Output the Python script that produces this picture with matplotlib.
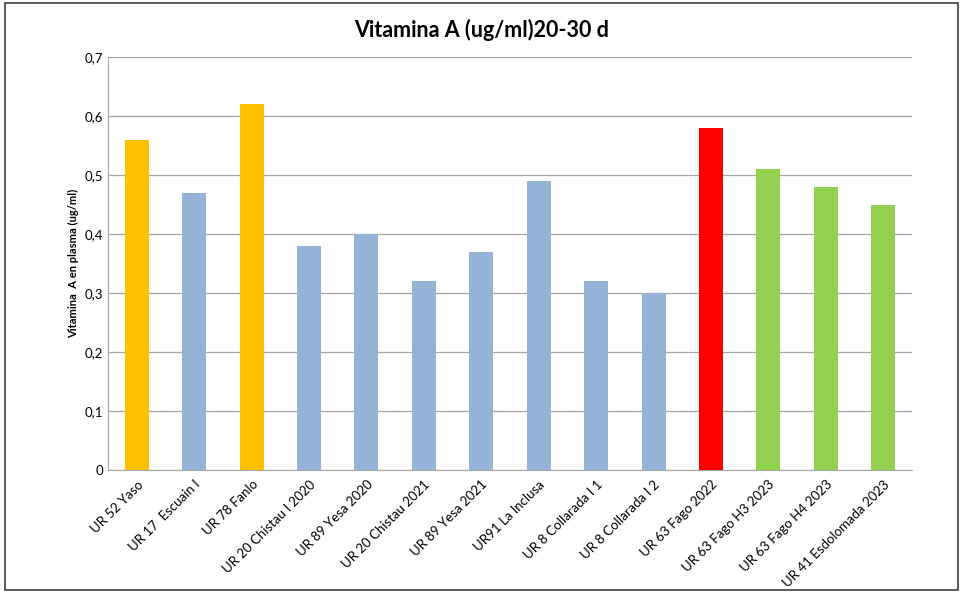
import matplotlib.pyplot as plt
from matplotlib.patches import Rectangle
from matplotlib.ticker import FuncFormatter

plt.rcParams["font.family"] = ["Lato", "DejaVu Sans"]

labels = [
    "UR 52 Yaso", "UR 17  Escuain I", "UR 78 Fanlo", "UR 20 Chistau I 2020",
    "UR 89 Yesa 2020", "UR 20 Chistau 2021", "UR 89 Yesa 2021", "UR91 La Inclusa",
    "UR 8 Collarada I 1", "UR 8 Collarada I 2", "UR 63 Fago 2022",
    "UR 63 Fago H3 2023", "UR 63 Fago H4 2023", "UR 41 Esdolomada 2023",
]
values = [0.56, 0.47, 0.62, 0.38, 0.40, 0.32, 0.37, 0.49, 0.32, 0.30, 0.58, 0.51, 0.48, 0.45]
groups = ["y", "b", "y", "b", "b", "b", "b", "b", "b", "b", "r", "g", "g", "g"]
palette = {"y": "#FFC000", "b": "#95B3D7", "r": "#FF0000", "g": "#92D050"}

fig = plt.figure(figsize=(9.63, 5.93), dpi=100)
ax = fig.add_axes([108 / 963, 1 - 470 / 593, 804 / 963, 413 / 593])

x = range(len(values))
ax.bar(x, values, width=0.42, color=[palette[g] for g in groups], zorder=3)

ax.set_xlim(-0.5, len(values) - 0.5)
ax.set_ylim(0, 0.7)
ax.set_yticks([i / 10 for i in range(8)])
ax.yaxis.set_major_formatter(FuncFormatter(lambda v, _: "0" if v == 0 else f"{v:.1f}".replace(".", ",")))
ax.grid(axis="y", color="#A6A6A6", linewidth=0.9, zorder=0)
ax.set_xticks(list(x))
ax.set_xticklabels(labels, rotation=45, ha="right", rotation_mode="anchor", fontsize=9)
ax.tick_params(axis="both", length=0, labelsize=9.5)
ax.tick_params(axis="x", pad=6)
for side in ["top", "right"]:
    ax.spines[side].set_visible(False)
for side in ["left", "bottom"]:
    ax.spines[side].set_color("#A6A6A6")

ax.set_ylabel("Vitamina  A en plasma (ug/ml)", fontsize=8, fontweight="bold")
fig.text(0.5, 1 - 30 / 593, "Vitamina A (ug/ml)20-30 d", ha="center", va="center",
         fontsize=15.5, fontweight="bold")

fig.patches.append(Rectangle((5 / 963, 3 / 593), 953 / 963, 587 / 593, transform=fig.transFigure,
                             fill=False, edgecolor="#404040", linewidth=1.2))

fig.savefig("out.png", dpi=100)
